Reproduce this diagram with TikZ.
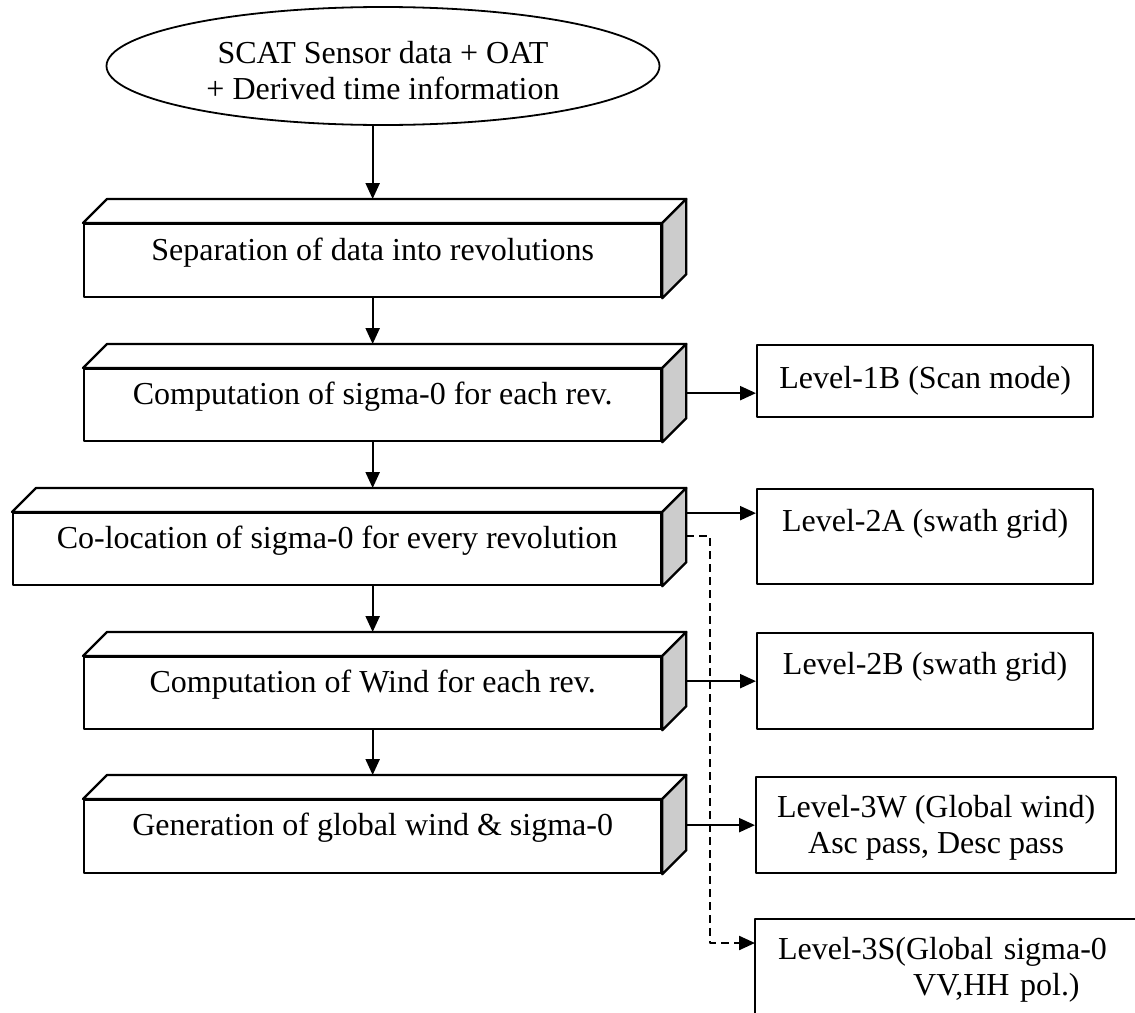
\documentclass[tikz,border=0pt]{standalone}
\usepackage{fontspec}
\setmainfont{Liberation Serif}
\usetikzlibrary{shapes.geometric,arrows.meta}
\newcommand\cubefaces[1]{%
  \draw[topf] (#1.north west) -- ++(24,-24) -- ([shift={(24pt,24pt)}]#1.north east) -- (#1.north east) -- cycle;
  \draw[sideface] (#1.north east) -- ([shift={(24pt,24pt)}]#1.north east) -- ([shift={(24pt,24pt)}]#1.south east) -- (#1.south east) -- cycle;
  \coordinate (#1t) at ([yshift=24pt]#1.north);
}
\begin{document}
\begin{tikzpicture}[x=1pt,y=-1pt,
  every node/.style={font=\fontsize{32pt}{36.5pt}\selectfont},
  line width=2.3pt, line join=round,
  front/.style={draw,fill=white,rectangle,inner sep=0pt,anchor=north west,minimum width=577pt},
  lvl/.style={draw,rectangle,inner sep=0pt,anchor=north west},
  arr/.style={-{Triangle[length=16pt,width=14pt]}},
  dsh/.style={dash pattern=on 8pt off 5pt},
  sideface/.style={draw,fill=black!20},
  topf/.style={draw,fill=white},
]
\useasboundingbox (0,0) rectangle (1135,1012);

% start ellipse
\node[draw,ellipse,line width=1.8pt,minimum width=553pt,minimum height=118pt,inner sep=0pt,align=center] (e) at (383,66) {\rule{0pt}{31pt}SCAT Sensor data + OAT\\+ Derived time information};

% process cubes
\node[front,text height=36pt,text depth=37pt] (b1) at (83,223) {Separation of data into revolutions};
\cubefaces{b1}
\node[front,text height=35pt,text depth=37pt] (b2) at (83,368) {Computation of sigma-0 for each rev.};
\cubefaces{b2}
\node[front,minimum width=648pt,text height=35pt,text depth=37pt] (b3) at (12,512) {Co-location of sigma-0 for every revolution};
\cubefaces{b3}
\node[front,text height=35pt,text depth=37pt] (b4) at (83,656) {Computation of Wind for each rev.};
\cubefaces{b4}
\node[front,text height=35pt,text depth=38pt] (b5) at (83,799) {Generation of global wind \& sigma-0};
\cubefaces{b5}

% product boxes
\node[lvl,minimum width=336pt,minimum height=72pt] (l1) at (756,344) {Level-1B (Scan mode)};
\node[lvl,minimum width=336pt,text height=42pt,text depth=53pt] (l2a) at (756,488) {Level-2A (swath grid)};
\node[lvl,minimum width=336pt,text height=41pt,text depth=55pt] (l2b) at (756,632) {Level-2B (swath grid)};
\node[lvl,minimum width=360pt,minimum height=96pt,align=center] (l3w) at (755,776) {\rule{0pt}{27pt}Level-3W (Global wind)\\Asc pass, Desc pass};
\node[anchor=north west,inner xsep=22pt,inner ysep=17pt,text width=345pt,align=left] (l3s) at (755,919) {Level-3S(Global sigma-0\\\hspace*{135pt}VV,HH pol.)};
\draw ([yshift=-120pt]l3s.north west) -- (l3s.north west) -- (l3s.north east);

% vertical flow
\draw[arr] (e.south -| b1.north) -- (b1t);
\draw[arr] (b1.south) -- (b2t);
\draw[arr] (b2.south) -- (b2.south |- b3t);
\draw[arr] (b3.south -| b4.north) -- (b4t);
\draw[arr] (b4.south) -- (b5t);

% outputs
\draw[arr] ([xshift=24pt,yshift=12pt]b2.east) -- ([yshift=-12pt]l1.west);
\draw[arr] ([xshift=24pt,yshift=36pt]b3.east) -- ([yshift=23.5pt]l2a.west);
\draw[arr] ([xshift=24pt]b4.east |- l2b.west) -- (l2b.west);
\draw[arr] ([xshift=24pt]b5.east |- l3w.west) -- (l3w.west);
\draw[arr,dsh] ([xshift=24pt,yshift=13pt]b3.east) -- ++(24,0) |- ([yshift=-24pt]l3s.north west);
\end{tikzpicture}
\end{document}
